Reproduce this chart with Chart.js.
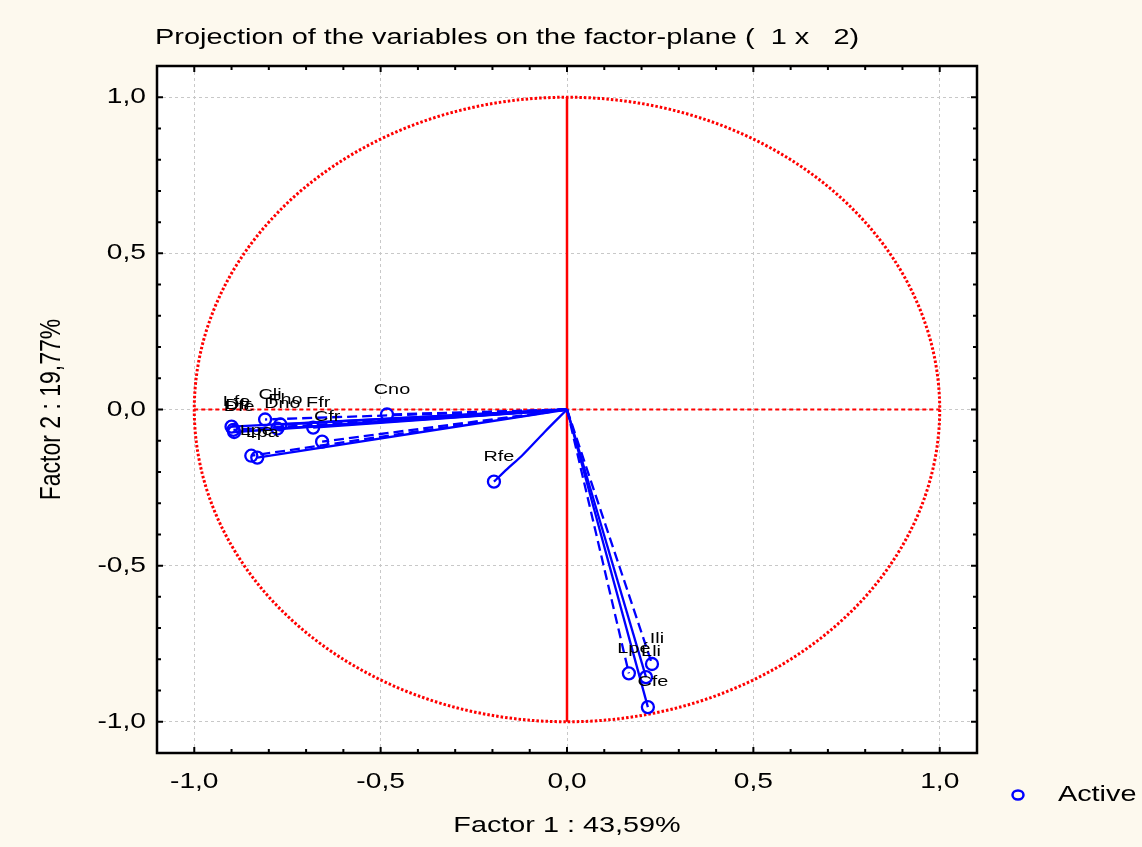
<!DOCTYPE html>
<html>
<head>
<meta charset="utf-8">
<script src="https://cdn.jsdelivr.net/npm/chart.js@4.4.1/dist/chart.umd.min.js"></script>
<style>
html, body { margin: 0; padding: 0; background: #fdf9ee; }
#wrap { width: 1142px; height: 847px; }
</style>
</head>
<body>
<div id="wrap"><canvas id="pcaChart"></canvas></div>
<script>
// variables projected on factor plane 1 x 2
var varNames = ['Cno', 'Cli', 'Fho', 'Dno', 'Ffr', 'Cfr', 'Lfe', 'Dfr', 'Dfe', 'Lpe', 'Lpa', 'Rfe', 'Lpé', 'Ili', 'Lli', 'Cfe'];
var factor1  = [-0.483, -0.810, -0.769, -0.777, -0.681, -0.657, -0.900, -0.895, -0.893, -0.847, -0.831, -0.196, 0.166, 0.228, 0.212, 0.217];
var factor2  = [-0.016, -0.032, -0.048, -0.061, -0.058, -0.103, -0.055, -0.065, -0.072, -0.148, -0.154, -0.231, -0.845, -0.815, -0.857, -0.953];
var dashedLine = [true, true, false, false, false, true, false, true, false, true, false, false, true, true, false, false];
// the Rfe line bends on its way from the origin
var rfeBendX = [-0.060, -0.121, -0.160];
var rfeBendY = [-0.072, -0.148, -0.190];

var chartTitle = 'Projection of the variables on the factor-plane (  1 x   2)';
var xTitle = 'Factor 1 : 43,59%';
var yTitle = 'Factor 2 : 19,77%';
var legendLabel = 'Active';

var STRETCH = 1.28;
var BLUE = '#0000ff';
var RED = '#ff0000';

function fmt(v) {
    var s = Math.abs(v) < 1e-9 ? '0.0' : v.toFixed(1);
    return s.replace('.', ',');
}

// text in the original is wider than plain Arial, stretch it horizontally
function drawText(ctx, text, x, y, size, align, rot) {
    ctx.save();
    ctx.translate(x, y);
    ctx.scale(STRETCH, 1);
    if (rot) ctx.rotate(rot);
    ctx.font = size + 'px "Liberation Sans", Arial, sans-serif';
    ctx.textAlign = align;
    ctx.textBaseline = 'middle';
    ctx.fillStyle = '#000';
    ctx.fillText(text, 0, 0);
    ctx.restore();
}

var datasets = [];
for (var i = 0; i < varNames.length; i++) {
    var pts = [{x: 0, y: 0}];
    var bent = varNames[i] == 'Rfe';
    if (bent) {
        for (var b = 0; b < rfeBendX.length; b++) pts.push({x: rfeBendX[b], y: rfeBendY[b]});
    }
    pts.push({x: factor1[i], y: factor2[i]});
    var radii = pts.map(function(p, k) { return k == pts.length - 1 ? 6 : 0; });
    datasets.push({
        label: varNames[i],
        data: pts,
        showLine: true,
        tension: bent ? 0.35 : 0,
        borderColor: BLUE,
        borderWidth: 2.3,
        borderDash: dashedLine[i] ? [10, 5] : [],
        pointRadius: radii,
        pointBorderColor: BLUE,
        pointBackgroundColor: 'rgba(0,0,0,0)',
        pointBorderWidth: 2.3,
        order: 1
    });
}
// red axes inside the unit circle
datasets.push({
    label: 'h', data: [{x: -1, y: 0}, {x: 1, y: 0}], showLine: true,
    borderColor: RED, borderWidth: 2.2, borderDash: [4, 3], pointRadius: 0, order: 5
});
datasets.push({
    label: 'v', data: [{x: 0, y: -1}, {x: 0, y: 1}], showLine: true,
    borderColor: RED, borderWidth: 2.5, pointRadius: 0, order: 5
});

var framePlugin = {
    id: 'framePlugin',
    beforeDraw: function(chart) {
        var ctx = chart.ctx, a = chart.chartArea;
        ctx.save();
        ctx.fillStyle = '#fdf9ee';
        ctx.fillRect(0, 0, chart.width, chart.height);
        ctx.fillStyle = '#ffffff';
        ctx.fillRect(a.left, a.top, a.right - a.left, a.bottom - a.top);
        ctx.restore();
    },
    beforeDatasetsDraw: function(chart) {
        // unit circle of correlations
        var ctx = chart.ctx, xs = chart.scales.x, ys = chart.scales.y;
        var cx = xs.getPixelForValue(0), cy = ys.getPixelForValue(0);
        var rx = xs.getPixelForValue(1) - cx, ry = cy - ys.getPixelForValue(1);
        ctx.save();
        ctx.strokeStyle = RED;
        ctx.lineWidth = 3;
        ctx.setLineDash([2.5, 2]);
        ctx.beginPath();
        ctx.ellipse(cx, cy, rx, ry, 0, 0, Math.PI * 2);
        ctx.stroke();
        ctx.restore();
    },
    afterDraw: function(chart) {
        var ctx = chart.ctx, a = chart.chartArea, xs = chart.scales.x, ys = chart.scales.y;
        ctx.save();
        // frame
        ctx.strokeStyle = '#000';
        ctx.lineWidth = 2.5;
        ctx.strokeRect(a.left, a.top, a.right - a.left, a.bottom - a.top);
        // inward ticks every 0.1
        ctx.lineWidth = 2;
        for (var k = -11; k <= 11; k++) {
            var v = k / 10;
            var len = (k % 5 == 0) ? 6 : 4;
            var px = xs.getPixelForValue(v), py = ys.getPixelForValue(v);
            ctx.beginPath();
            if (px > a.left + 2 && px < a.right - 2) {
                ctx.moveTo(px, a.top); ctx.lineTo(px, a.top + len);
                ctx.moveTo(px, a.bottom); ctx.lineTo(px, a.bottom - len);
            }
            if (py > a.top + 2 && py < a.bottom - 2) {
                ctx.moveTo(a.left, py); ctx.lineTo(a.left + len, py);
                ctx.moveTo(a.right, py); ctx.lineTo(a.right - len, py);
            }
            ctx.stroke();
        }
        ctx.restore();

        // tick labels
        xs.ticks.forEach(function(t) {
            drawText(ctx, fmt(t.value), xs.getPixelForValue(t.value), a.bottom + 29, 22, 'center');
        });
        ys.ticks.forEach(function(t) {
            drawText(ctx, fmt(t.value), a.left - 11, ys.getPixelForValue(t.value), 22, 'right');
        });

        // point labels
        for (var i = 0; i < varNames.length; i++) {
            drawText(ctx, varNames[i], xs.getPixelForValue(factor1[i]) + 5, ys.getPixelForValue(factor2[i]) - 25, 15.5, 'center');
        }

        // titles
        drawText(ctx, chartTitle, a.left - 2, 38, 22.6, 'left');
        drawText(ctx, xTitle, (a.left + a.right) / 2, 826, 22.5, 'center');
        drawText(ctx, yTitle, 52, (a.top + a.bottom) / 2, 23, 'center', -Math.PI / 2);

        // legend
        ctx.save();
        ctx.strokeStyle = BLUE;
        ctx.lineWidth = 2.5;
        ctx.beginPath();
        ctx.ellipse(1018, 795, 5.5, 4.5, 0, 0, Math.PI * 2);
        ctx.stroke();
        ctx.restore();
        drawText(ctx, legendLabel, 1058, 795, 22.5, 'left');
    }
};

new Chart(document.getElementById('pcaChart'), {
    type: 'scatter',
    data: {datasets: datasets},
    options: {
        responsive: true,
        maintainAspectRatio: false,
        animation: false,
        layout: {padding: {top: 66, right: 165, left: 0, bottom: 0}},
        plugins: {
            legend: {display: false},
            title: {display: false},
            tooltip: {enabled: false}
        },
        scales: {
            x: {
                type: 'linear',
                min: -1.1,
                max: 1.1,
                afterFit: function(s) { s.height = 94; },
                ticks: {stepSize: 0.5, includeBounds: false, display: false},
                grid: {color: '#c8c8c8', lineWidth: 1, drawTicks: false},
                border: {display: false, dash: [3, 3]}
            },
            y: {
                type: 'linear',
                min: -1.1,
                max: 1.1,
                afterFit: function(s) { s.width = 157; },
                ticks: {stepSize: 0.5, includeBounds: false, display: false},
                grid: {color: '#c8c8c8', lineWidth: 1, drawTicks: false},
                border: {display: false, dash: [3, 3]}
            }
        }
    },
    plugins: [framePlugin]
});
</script>
</body>
</html>
